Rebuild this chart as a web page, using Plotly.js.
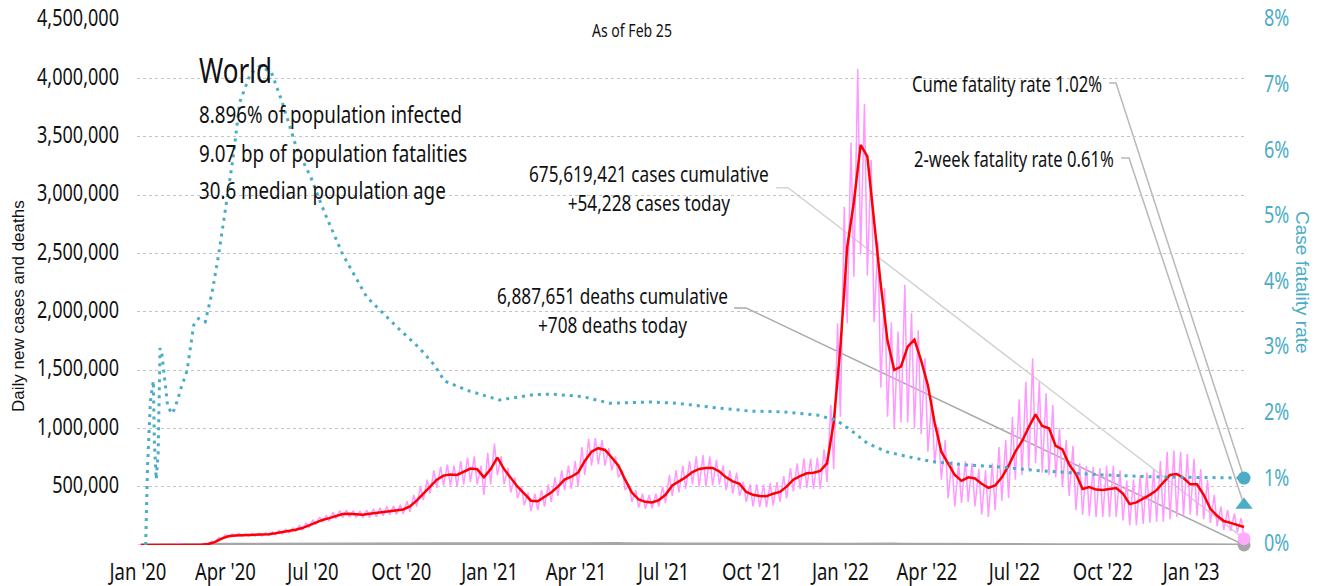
<!DOCTYPE html>
<html><head><meta charset="utf-8">
<script src="https://cdn.plot.ly/plotly-3.0.1.min.js"></script>
<style>
html,body{margin:0;padding:0;background:#fff}
#chart{width:1320px;height:586px}
</style>
</head><body><div id="chart"></div>
<script>
// ---------- DATA ----------
const weekStart = '2020-01-04';   // weekly points (Saturdays) through 2023-02-25
const lastDate = '2023-02-25';

// 7-day average daily new cases, thousands (read weekly)
const casesAvgK = [
 0,0,0.1,1,2,3,6,1.5,1.8,3,
 8,25,55,75,82,83,84,85,87,92,
 100,108,118,130,145,170,195,215,230,250,
 265,268,262,260,268,275,285,295,298,305,
 330,380,440,500,560,595,605,600,630,655,
 650,580,650,750,650,570,500,440,380,375,
 410,450,500,560,585,620,720,800,830,815,
 750,680,560,450,390,370,365,385,430,510,
 545,580,625,652,660,660,630,580,545,525,
 455,430,420,418,440,455,500,560,590,615,
 620,635,700,1050,1700,2550,2940,3430,3330,2780,
 2230,1750,1500,1530,1700,1760,1580,1370,1050,800,
 700,600,550,580,570,525,490,510,580,680,
 800,890,1010,1120,1020,1000,850,820,690,610,
 480,497,475,471,480,489,440,350,365,395,
 430,470,540,600,609,574,520,520,430,310,
 250,205,190,175,154];

// daily new cases, weekly mid-week high (thousands)
const casesHighK = [
 0,0,0.2,2,3,4,15,2,3,4,
 12,33,65,90,95,100,95,98,100,105,
 112,125,135,145,168,190,215,240,255,280,
 295,300,295,292,300,310,320,330,335,345,
 375,430,500,560,640,670,690,680,720,750,
 760,680,790,870,760,660,580,500,450,440,
 470,520,580,640,680,720,840,910,917,900,
 830,760,640,520,470,440,430,440,500,600,
 640,680,720,760,770,760,730,680,640,620,
 540,520,520,520,530,540,590,660,700,740,
 740,750,820,1200,1900,2900,3450,4080,3780,3300,
 2600,2200,1910,1830,2230,1990,1840,1600,1250,1010,
 900,720,700,720,700,650,640,700,840,900,
 1100,1250,1400,1600,1400,1300,1200,1000,900,850,
 700,680,670,660,680,680,640,550,560,600,
 620,650,720,800,810,800,780,740,650,560,
 430,330,300,270,230];

// daily new cases, weekly weekend low (thousands); last = cases today
const casesLowK = [
 0,0,0,0.5,1.5,2,2,1,1,2,
 6,20,48,70,72,75,75,76,78,82,
 88,95,105,118,128,150,175,195,205,225,
 235,238,235,232,235,240,250,260,262,265,
 285,330,385,440,490,510,510,500,520,540,
 520,430,520,600,520,450,400,340,290,300,
 330,370,420,470,480,500,600,680,690,680,
 640,580,470,370,320,310,315,330,360,420,
 450,480,520,500,500,510,520,470,440,420,
 370,330,325,325,340,370,400,460,480,490,
 480,480,540,650,1100,1900,2300,2490,2310,1910,
 1350,1100,1000,1050,1050,1000,950,800,700,560,
 400,330,360,370,330,260,240,300,380,400,
 560,600,650,700,620,600,580,500,420,300,
 260,250,240,240,240,240,210,170,170,180,
 190,200,200,220,240,250,260,250,220,190,
 160,130,120,110,54.228];

// daily deaths, thousands (weekly)
const deathsK = [
 0,0,0,0.03,0.05,0.1,0.14,0.1,0.07,0.1,
 0.4,1.2,3,5.5,7,7,6.5,5.5,5,4.8,
 4.5,4.3,4.3,4.5,4.8,5,5.2,5.5,5.6,5.8,
 5.9,5.9,5.8,5.6,5.5,5.5,5.4,5.3,5.4,5.5,
 5.7,6,6.5,7.5,8.5,9.5,10.5,11,11.5,11.7,
 11.5,10.5,12.5,14,14.5,14,13,11.5,10,9,
 8.8,8.7,9,9.8,10.5,11.5,12,13,13.5,13.5,
 13,12.5,11.5,10.5,10,9,8.5,8,7.8,7.5,
 8,8.8,9.5,10,10.2,10,9.8,9.2,8.8,8.2,
 7.8,7.3,7,6.8,7,7.2,7.5,7.6,7.5,7.2,
 7.2,7,6.8,6.5,6.3,6.5,7.3,9.5,10,11.5,
 11,9.8,8.3,7,6.6,6.5,4.9,4.6,4.1,3.3,
 3,2.6,2.4,2.1,2.0,1.9,1.8,1.6,1.6,1.7,
 1.8,2,2.2,2.4,2.3,2.4,2.3,2.2,1.9,1.8,
 1.6,1.4,1.4,1.3,1.3,1.3,1.4,1.4,1.3,1.3,
 1.3,1.4,1.5,1.6,1.6,1.5,1.8,2.3,2.5,2.2,
 1.8,1.5,1.3,1.1,0.708];

// cumulative case fatality rate, %
const cfrDates = ['2020-01-09','2020-01-11','2020-01-14','2020-01-17','2020-01-18','2020-01-20','2020-01-22','2020-01-24','2020-01-26','2020-01-28',
 '2020-02-01','2020-02-06','2020-02-11','2020-02-15','2020-02-21','2020-02-28','2020-03-04','2020-03-11','2020-03-18','2020-03-25',
 '2020-04-01','2020-04-09','2020-04-16','2020-04-27','2020-05-07','2020-05-19','2020-05-30','2020-06-14','2020-06-29','2020-07-13',
 '2020-08-01','2020-08-26','2020-09-28','2020-10-20','2020-11-04','2020-11-15','2020-12-08','2021-01-11','2021-02-15','2021-03-07',
 '2021-04-08','2021-05-06','2021-06-17','2021-07-15','2021-08-25','2021-09-29','2021-11-02','2021-12-08','2021-12-28','2022-01-11',
 '2022-01-29','2022-02-18','2022-03-14','2022-04-07','2022-05-12','2022-06-16','2022-07-20','2022-08-25','2022-09-28','2022-11-19','2023-02-25'];
const cfrPct = [0,1.2,2.2,2.5,1.6,1.0,1.4,3.0,2.9,2.65,
 2.1,2.0,2.2,2.4,2.65,3.35,3.45,3.4,3.84,4.43,
 5.13,5.9,6.75,7.18,7.3,7.2,6.75,6.05,5.6,5.07,
 4.43,3.78,3.3,3.0,2.75,2.5,2.36,2.21,2.29,2.3,
 2.26,2.16,2.18,2.16,2.09,2.04,2.03,1.98,1.9,1.76,
 1.55,1.42,1.34,1.27,1.22,1.19,1.14,1.10,1.07,1.04,1.02];

const casesToday = 54228, deathsToday = 708, cumeCfr = 1.02, twoWeekCfr = 0.61;

const xTickVals = ['2020-01-01','2020-04-01','2020-07-01','2020-10-01','2021-01-01','2021-04-01','2021-07-01','2021-10-01','2022-01-01','2022-04-01','2022-07-01','2022-10-01','2023-01-01'];
const xTickText = ["Jan '20","Apr '20","Jul '20","Oct '20","Jan '21","Apr '21","Jul '21","Oct '21","Jan '22","Apr '22","Jul '22","Oct '22","Jan '23"];
const leftTickVals = [500000,1000000,1500000,2000000,2500000,3000000,3500000,4000000,4500000];
const rightTickVals = [0,1,2,3,4,5,6,7,8];

// ---------- FONTS (fit text to the reference widths, then condense glyphs) ----------
const FAM = "'Noto Sans','DejaVu Sans Condensed','DejaVu Sans',sans-serif";
const FAM_T = "'Liberation Sans',Arial,sans-serif";
function perPx(text){
  const s = document.createElement('span');
  s.style.cssText = 'position:absolute;left:-9999px;top:0;visibility:hidden;white-space:nowrap;font-size:100px;font-family:'+FAM;
  s.textContent = text; document.body.appendChild(s);
  const w = s.getBoundingClientRect().width; s.remove();
  return w/100;
}
function fit(text, width, dflt){ const p = perPx(text); return p > 0 ? width/p : dflt; }
const szTick  = fit('4,500,000', 82, 20);
const szXTick = fit("Jan '20", 57, 20);
const szAsOf  = fit('As of Feb 25', 80, 15);
const szWorld = fit('World', 73, 30);
const szStat  = fit('8.896% of population infected', 263, 21);
const szAnn   = fit('675,619,421 cases cumulative', 240, 20);
const szRate  = fit('Cume fatality rate 1.02%', 190, 20);
// reference digits are ~16.7px tall at a width that fits szTick
const STRETCH = Math.min(1.5, Math.max(1, 23.4/szTick));
// two-line notes: reference line pitch is 28px; Plotly uses 1.3em and the glyphs get STRETCH-times taller
const szAnnLines = szAnn;

// ---------- BUILD ----------
function addDays(iso, n){ const d = new Date(iso+'T00:00:00Z'); d.setUTCDate(d.getUTCDate()+n); return d.toISOString().slice(0,10); }
const weekDates = casesAvgK.map((_,k)=>addDays(weekStart, 7*k));
const pinkX = [], pinkY = [];
weekDates.forEach((d,k)=>{ pinkX.push(addDays(d,-3)); pinkY.push(casesHighK[k]*1000); pinkX.push(d); pinkY.push(casesLowK[k]*1000); });

const TEAL = '#4BACC6', INK = '#111111';

const traces = [
 {x: weekDates, y: deathsK.map(v=>v*1000), type:'scatter', mode:'lines', line:{color:'#a6a6a6', width:3}, hoverinfo:'skip'},
 {x: pinkX, y: pinkY, type:'scatter', mode:'lines', line:{color:'#ff99ff', width:1.5}, hoverinfo:'skip'},
 {x: weekDates, y: casesAvgK.map(v=>v*1000), type:'scatter', mode:'lines', line:{color:'#ff0000', width:2.5}, hoverinfo:'skip'},
 {x: cfrDates, y: cfrPct, yaxis:'y2', type:'scatter', mode:'lines', line:{color:TEAL, width:3, dash:'3px,5px'}, hoverinfo:'skip'},
 {x:[lastDate], y:[deathsToday], type:'scatter', mode:'markers', marker:{color:'#a6a6a6', size:13}, cliponaxis:false, hoverinfo:'skip'},
 {x:[lastDate], y:[casesToday], type:'scatter', mode:'markers', marker:{color:'#ffaaff', size:13}, cliponaxis:false, hoverinfo:'skip'},
 {x:[lastDate], y:[cumeCfr], yaxis:'y2', type:'scatter', mode:'markers', marker:{color:TEAL, size:13}, cliponaxis:false, hoverinfo:'skip'},
 {x:[lastDate], y:[twoWeekCfr], yaxis:'y2', type:'scatter', mode:'markers', marker:{color:TEAL, size:15, symbol:'triangle-up'}, cliponaxis:false, hoverinfo:'skip'}
];

const L=137, T=20, W=1108, H=525;
const px = x => (x-L)/W, py = y => (T+H-y)/H;
function txt(text, x, y, size, xanchor, extra){
  return Object.assign({text, x:px(x), y:py(y), xref:'paper', yref:'paper', xanchor, yanchor:'middle', showarrow:false,
                        font:{family:FAM, size, color:INK}}, extra||{});
}
function conn(yval, yref, path, color){
  return {type:'path', xref:'x', yref, xsizemode:'pixel', ysizemode:'pixel', xanchor:lastDate, yanchor:yval, path, line:{color, width:1.5}, layer:'below'};
}

const layout = {
  width:1320, height:586,
  margin:{l:L, r:1320-L-W, t:T, b:586-T-H, pad:0},
  paper_bgcolor:'#fff', plot_bgcolor:'#fff',
  font:{family:FAM, size:szTick, color:INK},
  showlegend:false,
  xaxis:{type:'date', range:['2019-12-31','2023-02-26'], tickmode:'array', tickvals:xTickVals, ticktext:xTickText,
         showgrid:false, zeroline:false, showline:false, ticks:'', ticklabelstandoff:Math.max(4, Math.round(25 - szXTick*0.5)),
         tickfont:{family:FAM, size:szXTick, color:INK}},
  yaxis:{range:[0,4500000], tickmode:'array', tickvals:leftTickVals, tickformat:',d', showgrid:true, gridcolor:'#c4c4c4', griddash:'dot', gridwidth:1,
         zeroline:false, showline:false, ticks:'', ticklabelstandoff:17, tickfont:{family:FAM, size:szTick, color:INK}},
  yaxis2:{overlaying:'y', side:'right', range:[0,8], tickmode:'array', tickvals:rightTickVals, ticktext:rightTickVals.map(v=>v+'%'),
         showgrid:false, zeroline:false, showline:false, ticks:'', ticklabelstandoff:18, tickfont:{family:FAM, size:szTick, color:TEAL}},
  annotations:[
    txt('As of Feb 25', 632, 30, szAsOf, 'center'),
    txt('World', 197, 70, szWorld, 'left'),
    txt('8.896% of population infected', 197, 114, szStat, 'left'),
    txt('9.07 bp of population fatalities', 197, 153, szStat, 'left'),
    txt('30.6 median population age', 197, 190, szStat, 'left'),
    txt('675,619,421 cases cumulative<br>+54,228 cases today', 649, 187, szAnnLines, 'center', {align:'center'}),
    txt('6,887,651 deaths cumulative<br>+708 deaths today', 612, 309, szAnnLines, 'center', {align:'center'}),
    txt('Cume fatality rate 1.02%', 1104, 83, szRate, 'right'),
    txt('2-week fatality rate 0.61%', 1116, 158, szRate, 'right'),
    txt('Daily new cases and deaths', 18, 306, 17, 'center', {textangle:-90, font:{family:FAM_T, size:17, color:INK}}),
    txt('Case fatality rate', 1303, 282, 19, 'center', {textangle:90, font:{family:FAM_T, size:19, color:TEAL}})
  ],
  shapes:[
    conn(casesToday, 'y', 'M-468,351L-456,351L0,0', '#d3d3d3'),
    conn(deathsToday, 'y', 'M-510,237L-498,237L0,0', '#a8a8a8'),
    conn(cumeCfr, 'y2', 'M-135,395L-128,395L0,0', '#b8b8b8'),
    conn(twoWeekCfr, 'y2', 'M-123,347L-115,347L0,0', '#b8b8b8')
  ]
};

// Taller glyphs at the same text width, like the condensed face of the reference
function condense(){
  document.querySelectorAll('#chart svg text').forEach(t=>{
    if(!/Noto/.test(t.style.fontFamily || '') || t.getAttribute('data-cond')) return;
    const fs = parseFloat(t.style.fontSize);
    if(!fs) return;
    const lines = Array.from(t.querySelectorAll('tspan.line'));
    const parts = lines.length ? lines : [t];
    const widths = parts.map(p=>p.getComputedTextLength());
    if(!widths.every(w=>w>0)) return;
    t.style.fontSize = (fs*STRETCH).toFixed(2) + 'px';
    parts.forEach((p,i)=>{ p.setAttribute('textLength', widths[i].toFixed(2)); p.setAttribute('lengthAdjust', 'spacingAndGlyphs'); });
    t.setAttribute('data-cond', '1');
    if(t.closest('.annotation')){
      const n = parts.length;
      // keep the block centred where it was placed: glyphs grow upward, line pitch grows downward
      const shift = 0.357*(STRETCH-1)*fs - (n-1)*0.65*(STRETCH-1)*fs;
      [t].concat(lines).forEach(e=>{
        const y = parseFloat(e.getAttribute('y'));
        if(!isNaN(y)) e.setAttribute('y', (y + shift).toFixed(2));
      });
    }
  });
}

Plotly.newPlot('chart', traces, layout, {staticPlot:true, displayModeBar:false}).then(condense);
</script>
</body></html>
